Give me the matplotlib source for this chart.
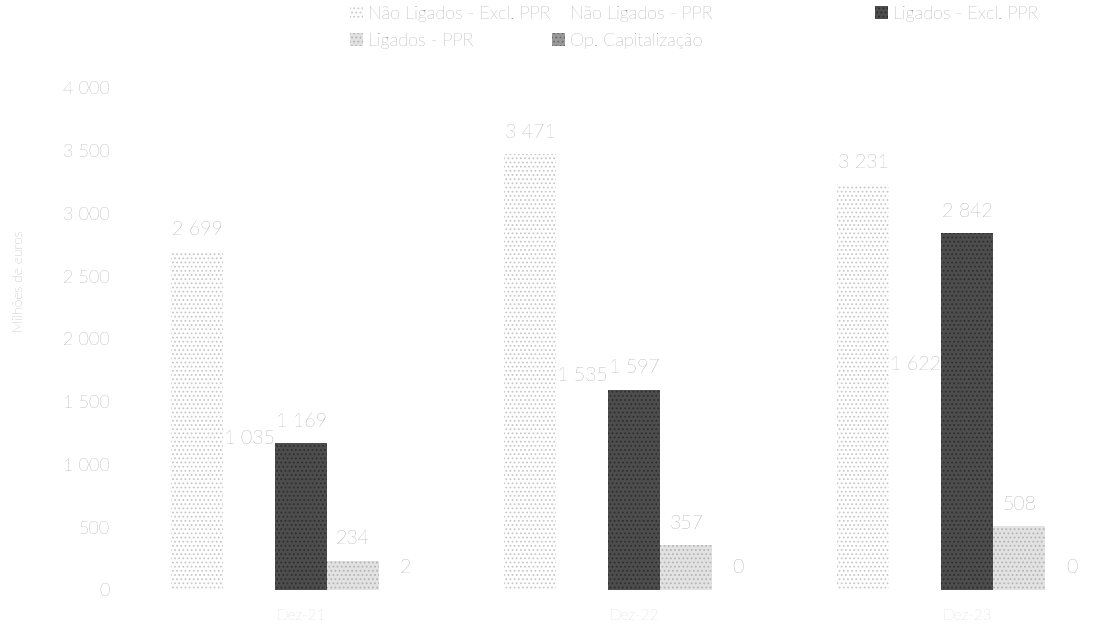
import numpy as np
import matplotlib.pyplot as plt

# data (milhões de euros)
periods = ['Dez-21', 'Dez-22', 'Dez-23']
nao_ligados_excl_ppr = [2699, 3471, 3231]
nao_ligados_ppr = [1035, 1535, 1622]
ligados_excl_ppr = [1169, 1597, 2842]
ligados_ppr = [234, 357, 508]
op_capitalizacao = [2, 0, 0]

series_names = ['Não Ligados - Excl. PPR', 'Não Ligados - PPR', 'Ligados - Excl. PPR',
                'Ligados - PPR', 'Op. Capitalização']
series_values = [nao_ligados_excl_ppr, nao_ligados_ppr, ligados_excl_ppr,
                 ligados_ppr, op_capitalizacao]

# scanned look: light stipple, white, dark grey, light grey, mid grey
styles = [
    dict(facecolor='white', edgecolor='#c8c8c8', hatch='....'),
    dict(facecolor='white', edgecolor='white', hatch=None),
    dict(facecolor='#4d4d4d', edgecolor='#2e2e2e', hatch='....'),
    dict(facecolor='#e2e2e2', edgecolor='#b5b5b5', hatch='....'),
    dict(facecolor='#9a9a9a', edgecolor='#6a6a6a', hatch='....'),
]

plt.rcParams['font.family'] = ['Lato', 'DejaVu Sans']
plt.rcParams['font.weight'] = 'light'
plt.rcParams['hatch.linewidth'] = 0.8
text_grey = '#6e6e6e'

fig = plt.figure(figsize=(10.94, 6.33), dpi=100)
ax = fig.add_axes([0.128, 0.068, 0.872, 0.793])

x = np.arange(len(periods))
width = 0.156

handles = []
for i, (name, vals, st) in enumerate(zip(series_names, series_values, styles)):
    pos = x + (i - 2) * width
    bars = ax.bar(pos, vals, width, label=name, linewidth=0, **st)
    handles.append(bars)
    for b, v in zip(bars, vals):
        ax.annotate(f'{v:,}'.replace(',', ' '), (b.get_x() + b.get_width() / 2, v),
                    xytext=(0, 9), textcoords='offset points', ha='center', va='bottom',
                    fontsize=14, color=text_grey)

ax.set_ylim(0, 4000)
ax.set_xlim(-0.483, 2.38)
ax.set_yticks(np.arange(0, 4001, 500))
ax.set_yticklabels([f'{t:,}'.replace(',', ' ') for t in range(0, 4001, 500)],
                   fontsize=13, color=text_grey)
ax.set_xticks(x)
ax.set_xticklabels(periods, fontsize=11, color='#bdbdbd')
ax.tick_params(axis='x', length=0, pad=14)
ax.tick_params(axis='y', length=0, pad=22)
for s in ax.spines.values():
    s.set_visible(False)

fig.text(0.018, 0.555, 'Milhões de euros', rotation=90, ha='center', va='center',
         fontsize=10, color=text_grey)

# row-wise order like the original legend, third column placed apart
leg_kw = dict(frameon=False, fontsize=13, handlelength=0.7, handleheight=0.7,
              handletextpad=0.3, labelspacing=0.6)
order = [0, 3, 1, 4]
leg = fig.legend([handles[k] for k in order], [series_names[k] for k in order],
                 loc='upper left', bbox_to_anchor=(0.305, 1.016), ncol=2,
                 columnspacing=0.1, **leg_kw)
leg2 = fig.legend([handles[2]], [series_names[2]], loc='upper left',
                  bbox_to_anchor=(0.785, 1.016), **leg_kw)
for lg in (leg, leg2):
    for t in lg.get_texts():
        t.set_color(text_grey)

fig.savefig('out.png', dpi=100)
